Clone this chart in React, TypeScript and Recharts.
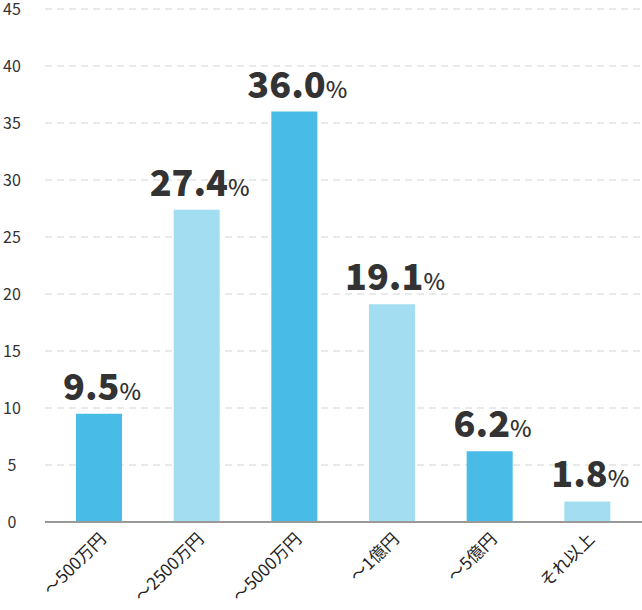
import { Bar, BarChart, CartesianGrid, LabelList, XAxis, YAxis } from 'recharts'

const CATEGORIES = ['～500万円', '～2500万円', '～5000万円', '～1億円', '～5億円', 'それ以上']
const SHARES = [9.5, 27.4, 36.0, 19.1, 6.2, 1.8]
const Y_TICKS = [0, 5, 10, 15, 20, 25, 30, 35, 40, 45]

const DARK = '#48bce6'
const LIGHT = '#a3ddf2'
const FONT = '"Noto Sans CJK JP", "Noto Sans", sans-serif'

const data = CATEGORIES.map((name, i) => ({
  name,
  value: SHARES[i],
  fill: i % 2 === 0 ? DARK : LIGHT,
}))

const YTick = (props: any) => {
  const { y, payload } = props
  return (
    <text x={12} y={y} dy={6} textAnchor="middle" fontSize={16} fill="#333" fontFamily={FONT}>
      {payload.value}
    </text>
  )
}

const XTick = (props: any) => {
  const { x, y, payload } = props
  return (
    <g transform={`translate(${x + 4},${y + 6})`}>
      <text
        textAnchor="end"
        transform="rotate(-45)"
        fontSize={17}
        fill="#222"
        fontFamily={FONT}
        dy={6}
      >
        {payload.value}
      </text>
    </g>
  )
}

const ValueLabel = (props: any) => {
  const { x, y, width, value } = props
  return (
    <text x={x + width / 2 + 3} y={y - 14} textAnchor="middle" fill="#333" fontFamily={FONT}>
      <tspan fontSize={36} fontWeight={900}>
        {Number(value).toFixed(1)}
      </tspan>
      <tspan fontSize={23} fontWeight={500}>
        %
      </tspan>
    </text>
  )
}

export default function App() {
  return (
    <div style={{ position: 'absolute', left: 0, top: 0 }}>
      <BarChart
        width={642}
        height={610}
        data={data}
        margin={{ top: 9, right: 0, bottom: 0, left: 0 }}
      >
        <CartesianGrid vertical={false} stroke="#e2e2e2" strokeDasharray="7 5" strokeWidth={1.5} />
        <YAxis
          domain={[0, 45]}
          ticks={Y_TICKS}
          width={45}
          axisLine={false}
          tickLine={false}
          tick={<YTick />}
        />
        <XAxis
          dataKey="name"
          height={88}
          interval={0}
          padding={{ left: 5, right: 6 }}
          axisLine={{ stroke: '#999', strokeWidth: 2 }}
          tickLine={false}
          tick={<XTick />}
        />
        <Bar dataKey="value" barSize={46} isAnimationActive={false}>
          <LabelList dataKey="value" content={<ValueLabel />} />
        </Bar>
      </BarChart>
    </div>
  )
}
